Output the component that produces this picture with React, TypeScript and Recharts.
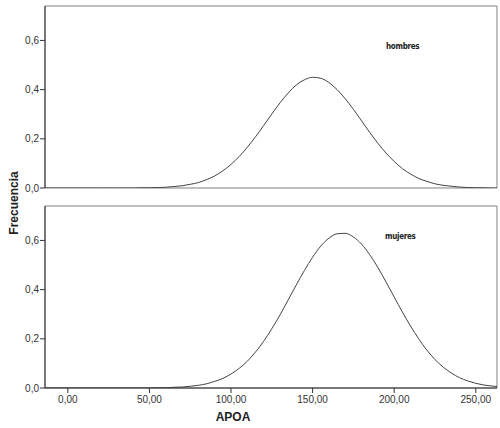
import { LineChart, Line, XAxis, YAxis, ReferenceArea } from 'recharts';

// APOA values (x axis)
const apoa = [
  -14, 0, 10, 20, 30, 40, 45, 50, 55, 60, 65, 70, 75, 80, 85, 90, 95, 100, 105, 110,
  115, 120, 125, 130, 135, 140, 145, 150, 155, 160, 165, 170, 175, 180, 185, 190, 195,
  200, 205, 210, 215, 220, 225, 230, 235, 240, 245, 250, 255, 260, 263,
];

const hombres = [
  0, 0, 0, 0, 0, 0, 0.001, 0.001, 0.002, 0.003, 0.006, 0.009, 0.015, 0.022, 0.034, 0.049,
  0.07, 0.096, 0.128, 0.166, 0.208, 0.254, 0.301, 0.346, 0.386, 0.419, 0.44, 0.45, 0.446,
  0.429, 0.4, 0.363, 0.32, 0.273, 0.226, 0.182, 0.142, 0.108, 0.079, 0.057, 0.039, 0.027,
  0.017, 0.011, 0.007, 0.004, 0.002, 0.001, 0.001, 0, 0,
];

const mujeres = [
  0, 0, 0, 0, 0, 0, 0, 0, 0.001, 0.001, 0.003, 0.004, 0.007, 0.011, 0.017, 0.027, 0.039,
  0.057, 0.08, 0.109, 0.146, 0.19, 0.241, 0.297, 0.358, 0.419, 0.478, 0.532, 0.577, 0.609,
  0.627, 0.629, 0.614, 0.585, 0.542, 0.49, 0.431, 0.37, 0.309, 0.252, 0.2, 0.154, 0.116,
  0.085, 0.061, 0.042, 0.029, 0.019, 0.012, 0.008, 0.006,
];

const xTicks = [0, 50, 100, 150, 200, 250];
const yTicks = [0, 0.2, 0.4, 0.6];

const FONT = '"Liberation Sans", Arial, sans-serif';
const X_DOMAIN: [number, number] = [-14, 263];
const Y_DOMAIN: [number, number] = [0, 0.74];

const fmtY = (v: number) => v.toFixed(1).replace('.', ',');
const fmtX = (v: number) => v.toFixed(2).replace('.', ',');

const topData = apoa.map((x, i) => ({ x, y: hombres[i] }));
const bottomData = apoa.map((x, i) => ({ x, y: mujeres[i] }));

function Panel({ data, showX, height, bottom }: { data: { x: number; y: number }[]; showX: boolean; height: number; bottom: number }) {
  return (
    <LineChart width={500} height={height} data={data} margin={{ top: 6, right: 3, bottom, left: 0 }}>
      <ReferenceArea
        x1={X_DOMAIN[0]}
        x2={X_DOMAIN[1]}
        y1={Y_DOMAIN[0]}
        y2={Y_DOMAIN[1]}
        fill="none"
        stroke="#808080"
        strokeWidth={1}
        ifOverflow="visible"
      />
      <XAxis
        type="number"
        dataKey="x"
        domain={X_DOMAIN}
        ticks={xTicks}
        interval={0}
        allowDataOverflow
        tickFormatter={fmtX}
        height={showX ? 40 : 0}
        tick={showX ? { fill: '#333', fontSize: 10, fontFamily: FONT } : false}
        tickLine={showX ? { stroke: '#333' } : false}
        tickSize={5}
        tickMargin={3}
        axisLine={{ stroke: '#333' }}
      />
      <YAxis
        type="number"
        domain={Y_DOMAIN}
        ticks={yTicks}
        interval={0}
        allowDataOverflow
        width={45}
        tickFormatter={fmtY}
        tick={{ fill: '#333', fontSize: 10, fontFamily: FONT }}
        tickLine={{ stroke: '#333' }}
        tickSize={5}
        tickMargin={1}
        axisLine={{ stroke: '#333' }}
      />
      <Line
        type="monotone"
        dataKey="y"
        stroke="#444"
        strokeWidth={1}
        dot={false}
        isAnimationActive={false}
      />
    </LineChart>
  );
}

export default function App() {
  return (
    <div style={{ position: 'fixed', top: 0, left: 0, width: 500, height: 428, background: '#fff', fontFamily: FONT }}>
      <div style={{ position: 'absolute', top: 0, left: 0 }}>
        <Panel data={topData} showX={false} height={198} bottom={10} />
      </div>
      <div style={{ position: 'absolute', top: 200, left: 0 }}>
        <Panel data={bottomData} showX={true} height={228} bottom={0} />
      </div>
      <div style={{ position: 'absolute', left: 386, top: 42, fontSize: 8, fontFamily: '"DejaVu Sans Condensed", sans-serif', fontWeight: 'bold', color: '#222', letterSpacing: -0.3 }}>
        hombres
      </div>
      <div style={{ position: 'absolute', left: 385, top: 232, fontSize: 8, fontFamily: '"DejaVu Sans Condensed", sans-serif', fontWeight: 'bold', color: '#222', letterSpacing: -0.3 }}>
        mujeres
      </div>
      <div style={{ position: 'absolute', left: 233, top: 417, transform: 'translate(-50%, -50%)', fontSize: 12, fontWeight: 'bold', color: '#222' }}>
        APOA
      </div>
      <div style={{ position: 'absolute', left: 14, top: 203, transform: 'translate(-50%, -50%) rotate(-90deg)', fontSize: 12, fontWeight: 'bold', color: '#222', whiteSpace: 'nowrap' }}>
        Frecuencia
      </div>
    </div>
  );
}
